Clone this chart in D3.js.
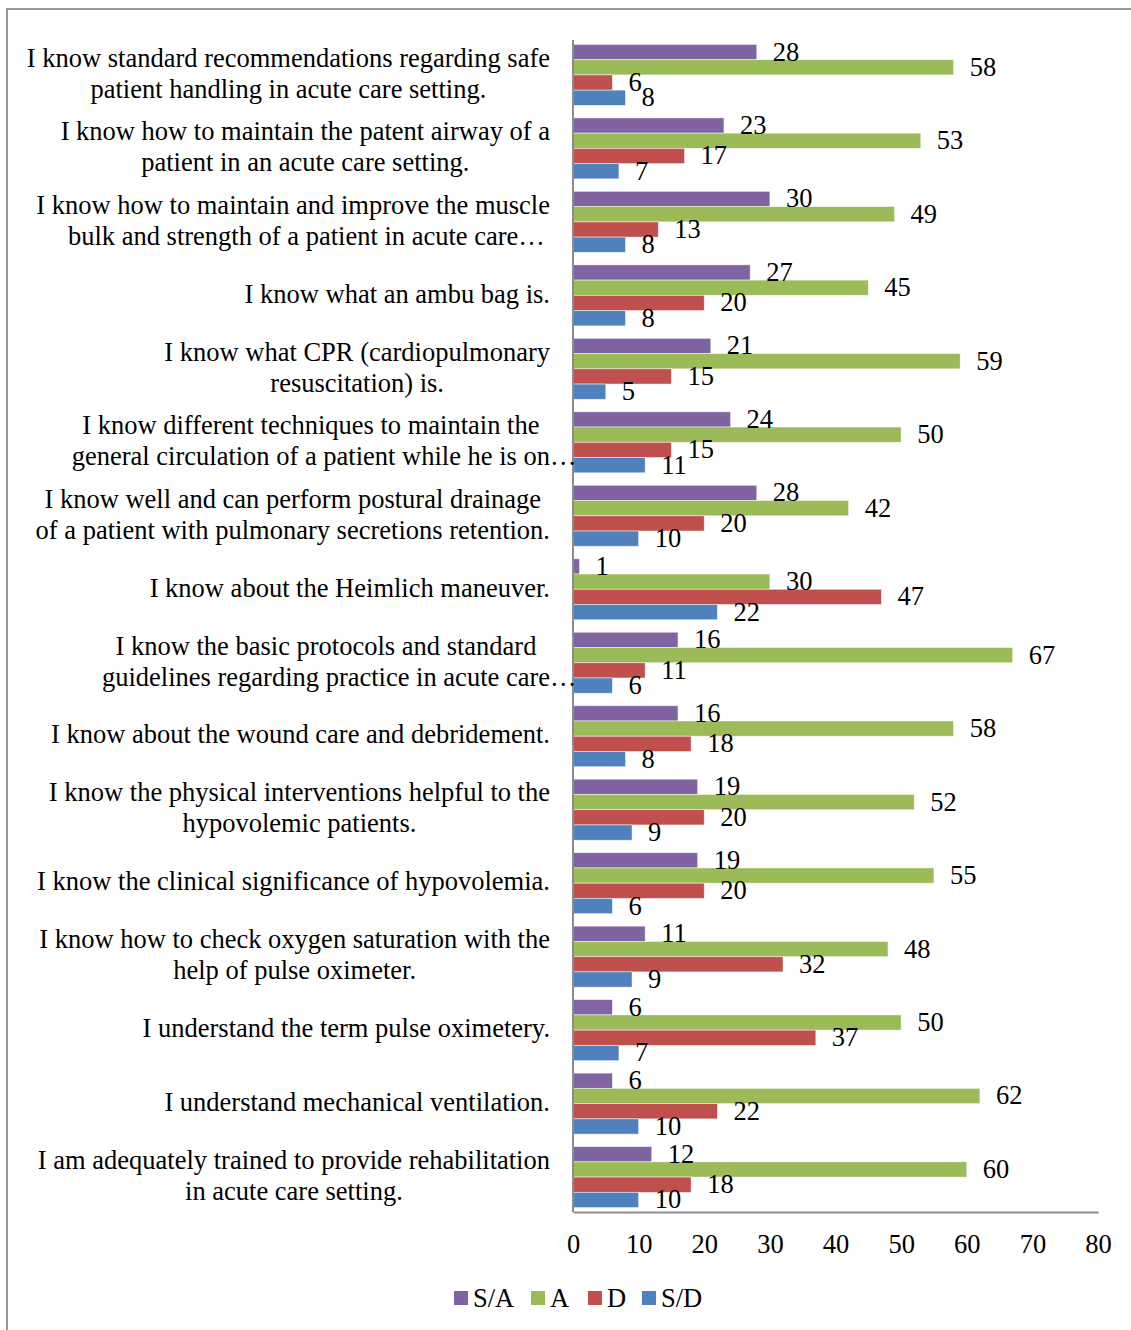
<!DOCTYPE html>
<html>
<head>
<meta charset="utf-8">
<script src="https://cdn.jsdelivr.net/npm/d3@7"></script>
<style>
  body { margin: 0; background: #fff; }
  svg { display: block; font-family: "Liberation Serif", "Times New Roman", serif; }
</style>
</head>
<body>
<svg width="1131" height="1330"></svg>
<script>
const categories = [
  ['I know standard recommendations regarding safe', 'patient handling in acute care setting.'],
  ['I know how to maintain the patent airway of a', 'patient in an acute care setting.'],
  ['I know how to maintain and improve the muscle', 'bulk and strength of a patient in acute care…'],
  ['I know what an ambu bag is.'],
  ['I know what CPR (cardiopulmonary', 'resuscitation) is.'],
  ['I know different techniques to maintain the', 'general circulation of a patient while he is on…'],
  ['I know well and can perform postural drainage', 'of a patient with pulmonary secretions retention.'],
  ['I know about the Heimlich maneuver.'],
  ['I know the basic protocols and standard', 'guidelines regarding practice in acute care…'],
  ['I know about the wound care and debridement.'],
  ['I know the physical interventions helpful to the', 'hypovolemic patients.'],
  ['I know the clinical significance of hypovolemia.'],
  ['I know how to check oxygen saturation with the', 'help of pulse oximeter.'],
  ['I understand the term pulse oximetery.'],
  ['I understand mechanical ventilation.'],
  ['I am adequately trained to provide rehabilitation', 'in acute care setting.']
]
const seriesNames = ['S/A', 'A', 'D', 'S/D']
const seriesColors = ['#8064A2', '#9BBB59', '#C0504D', '#4F81BD']
const valuesSA = [28, 23, 30, 27, 21, 24, 28, 1, 16, 16, 19, 19, 11, 6, 6, 12]
const valuesA = [58, 53, 49, 45, 59, 50, 42, 30, 67, 58, 52, 55, 48, 50, 62, 60]
const valuesD = [6, 17, 13, 20, 15, 15, 20, 47, 11, 18, 20, 20, 32, 37, 22, 18]
const valuesSD = [8, 7, 8, 8, 5, 11, 10, 22, 6, 8, 9, 6, 9, 7, 10, 10]
const xTicks = [0, 10, 20, 30, 40, 50, 60, 70, 80]

const seriesValues = [valuesSA, valuesA, valuesD, valuesSD]
const rows = categories.map((c, i) => ({
  idx: i,
  lines: c,
  values: seriesNames.map((s, j) => ({ name: s, value: seriesValues[j][i] }))
}))

const svg = d3.select('svg')
const plotLeft = 573
const plotRight = 1098
const plotTop = 40
const plotBottom = 1212
const fontSize = 26.5

// outer frame
svg.append('path')
  .attr('d', `M7,1330 V9 H1131`)
  .attr('fill', 'none')
  .attr('stroke', '#9a9a9a')
  .attr('stroke-width', 2)

const xScale = d3.scaleLinear().domain([0, 80]).range([plotLeft, plotRight])
const yScale = d3.scaleBand()
  .domain(d3.range(categories.length))
  .range([plotTop, plotBottom])
  .paddingInner(0.17)
  .paddingOuter(0.06)
const ySub = d3.scaleBand().domain(seriesNames).range([0, yScale.bandwidth()])
const colors = d3.scaleOrdinal().domain(seriesNames).range(seriesColors)

// bars
const groups = svg.append('g').attr('class', 'data-container')
  .selectAll('g.group')
  .data(rows)
  .enter()
  .append('g')
  .attr('class', 'group')
  .attr('transform', d => `translate(0, ${yScale(d.idx)})`)

groups.selectAll('rect')
  .data(d => d.values)
  .enter()
  .append('rect')
  .attr('x', xScale(0))
  .attr('y', d => ySub(d.name))
  .attr('width', d => xScale(d.value) - xScale(0))
  .attr('height', ySub.bandwidth())
  .attr('fill', d => colors(d.name))
  .attr('stroke', 'rgba(255,255,255,0.6)')
  .attr('stroke-width', 0.8)

groups.selectAll('text.value')
  .data(d => d.values)
  .enter()
  .append('text')
  .attr('class', 'value')
  .attr('x', d => xScale(d.value) + 16)
  .attr('y', d => ySub(d.name) + ySub.bandwidth() / 2)
  .attr('dy', '0.32em')
  .attr('font-size', fontSize)
  .attr('fill', '#000')
  .text(d => d.value)

// axes
const xAxis = d3.axisBottom(xScale).tickValues(xTicks).tickSize(0).tickPadding(22)
const xg = svg.append('g')
  .attr('transform', `translate(0, ${plotBottom})`)
  .call(xAxis)
xg.select('.domain').attr('stroke', '#8c8c8c').attr('stroke-width', 2)
xg.selectAll('.tick text')
  .attr('font-size', fontSize)
  .attr('font-family', '"Liberation Serif", serif')
  .attr('fill', '#000')

svg.append('line')
  .attr('x1', plotLeft).attr('x2', plotLeft)
  .attr('y1', plotTop).attr('y2', plotBottom)
  .attr('stroke', '#8c8c8c')
  .attr('stroke-width', 2)

// category labels: lines centred in a block right-aligned at x=550, ellipsis hangs over
const labelRight = 550
const lineHeight = 31
const labelG = svg.append('g').attr('class', 'labels')
rows.forEach(r => {
  const cy = yScale(r.idx) + yScale.bandwidth() / 2
  const n = r.lines.length
  const measured = r.lines.map(line => {
    const core = line.replace(/…$/, '')
    const t = labelG.append('text').attr('font-size', fontSize).text(core)
    const w = t.node().getComputedTextLength()
    t.remove()
    return w
  })
  const blockW = d3.max(measured)
  const center = labelRight - blockW / 2
  r.lines.forEach((line, k) => {
    labelG.append('text')
      .attr('x', center - measured[k] / 2)
      .attr('y', cy + (k - (n - 1) / 2) * lineHeight - 2)
      .attr('dy', '0.35em')
      .attr('font-size', fontSize)
      .attr('fill', '#000')
      .text(line)
  })
})

// legend
const legendX = [454, 531, 588, 642]
const legend = svg.append('g').attr('class', 'legend-container')
  .selectAll('g.legend-item')
  .data(seriesNames)
  .enter()
  .append('g')
  .attr('class', 'legend-item')
  .attr('transform', (d, i) => `translate(${legendX[i]}, 1298)`)
legend.append('rect')
  .attr('x', 0).attr('y', -7)
  .attr('width', 14).attr('height', 14)
  .attr('fill', d => colors(d))
legend.append('text')
  .attr('x', 19)
  .attr('dy', '0.35em')
  .attr('font-size', fontSize)
  .attr('fill', '#000')
  .text(d => d)
</script>
</body>
</html>
